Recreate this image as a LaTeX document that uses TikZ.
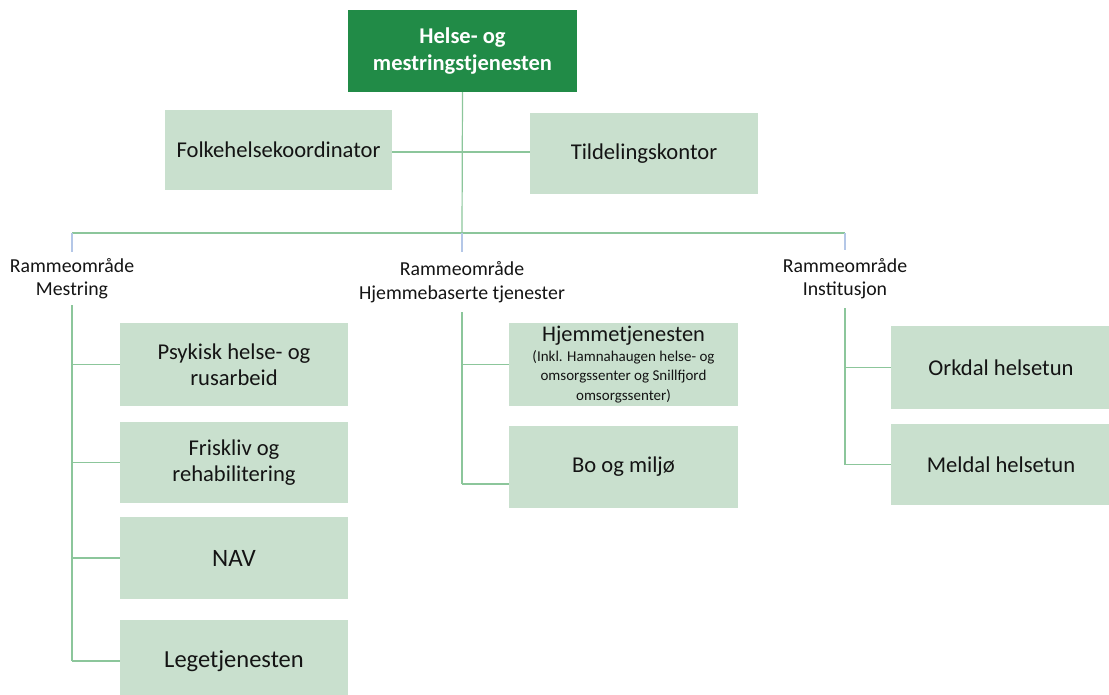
\documentclass[tikz,border=0pt]{standalone}
\usepackage{fontspec}
\setmainfont{Carlito}
\definecolor{topgreen}{RGB}{33,139,71}
\definecolor{boxgreen}{RGB}{201,224,206}
\definecolor{linegreen}{RGB}{140,198,155}
\definecolor{lineblue}{RGB}{180,199,231}
\definecolor{txt}{RGB}{20,20,20}
\tikzset{
  topbox/.style={rectangle, fill=topgreen, draw=none, text=white, align=center,
    font=\fontsize{22.5}{26.5}\selectfont\bfseries, inner sep=0pt},
  unitbox/.style={rectangle, fill=boxgreen, draw=none, text=txt, align=center,
    font=\fontsize{22.6}{26}\selectfont, inner sep=0pt},
  arealabel/.style={rectangle, draw=none, text=txt, align=center,
    font=\fontsize{19.8}{23}\selectfont, inner sep=0pt},
  conn/.style={draw=linegreen, line width=1.2pt},
  connb/.style={draw=lineblue, line width=1.2pt},
}
\begin{document}
\begin{tikzpicture}[x=1pt,y=-1pt]
\useasboundingbox (0,0) rectangle (1109,694);
% top
\node[topbox, minimum width=229pt, minimum height=82pt] (top) at (462.5,51) {Helse- og\\mestringstjenesten};
\node[unitbox, minimum width=227pt, minimum height=80pt] (folk) at (278.5,150) {Folkehelsekoordinator};
\node[unitbox, minimum width=228pt, minimum height=81pt] (tild) at (644,153.5) {Tildelingskontor};
% bus
\coordinate (busL) at (72,233);
\coordinate (busM) at (462,233);
\coordinate (busR) at (845,233);
% area labels
\node[arealabel, minimum height=53pt] (labL) at (72,278.5) {Rammeområde\\Mestring};
\node[arealabel, minimum height=60pt, font=\fontsize{19.8}{24}\selectfont] (labM) at (462,282) {Rammeområde\\Hjemmebaserte tjenester};
\node[arealabel, minimum height=58pt] (labR) at (845,279) {Rammeområde\\Institusjon};
% left units
\node[unitbox, minimum width=228pt, minimum height=83pt] (psyk) at (234,364.5) {Psykisk helse- og\\rusarbeid};
\node[unitbox, minimum width=228pt, minimum height=81pt] (frisk) at (234,462.5) {Friskliv og\\rehabilitering};
\node[unitbox, minimum width=228pt, minimum height=82pt, font=\fontsize{25}{28}\selectfont] (nav) at (234,558) {NAV};
\node[unitbox, minimum width=228pt, minimum height=82pt, font=\fontsize{24.5}{28}\selectfont] (lege) at (234,661) {Legetjenesten};
% middle units
\node[unitbox, minimum width=229pt, minimum height=83pt, font=\fontsize{15}{19.5}\selectfont] (hjem) at (623.5,364.5) {{\fontsize{22.4}{24}\selectfont Hjemmetjenesten}\\(Inkl. Hamnahaugen helse- og\\omsorgssenter og Snillfjord\\omsorgssenter)};
\node[unitbox, minimum width=229pt, minimum height=82pt] (bo) at (623.5,467) {Bo og miljø};
% right units
\node[unitbox, minimum width=220pt, minimum height=83pt] (ork) at (1001,367.5) {Orkdal helsetun};
\node[unitbox, minimum width=220pt, minimum height=81pt] (meld) at (1001,464.5) {Meldal helsetun};
% connectors
\draw[conn] (top.south) -- (busM);
\draw[conn] ([yshift=-2pt]folk.east) -- ([yshift=-2pt]folk.east -| tild.west);
\draw[conn] (busL) -- (busR);
\draw[connb] (busL) -- (labL.north);
\draw[connb] (busM) -- (labM.north);
\draw[connb] (busR) -- (labR.north);
% left branch
\draw[conn] (labL.south) -- (lege.west -| labL.south);
\draw[conn] (psyk.west -| labL.south) -- (psyk.west);
\draw[conn] (frisk.west -| labL.south) -- (frisk.west);
\draw[conn] (nav.west -| labL.south) -- (nav.west);
\draw[conn] (lege.west -| labL.south) -- (lege.west);
% middle branch
\draw[conn] (labM.south) -- ([yshift=-17pt]bo.west -| labM.south);
\draw[conn] (hjem.west -| labM.south) -- (hjem.west);
\draw[conn] ([yshift=-17pt]bo.west -| labM.south) -- ([yshift=-17pt]bo.west);
% right branch
\draw[conn] (labR.south) -- (meld.west -| labR.south);
\draw[conn] (ork.west -| labR.south) -- (ork.west);
\draw[conn] (meld.west -| labR.south) -- (meld.west);
\end{tikzpicture}
\end{document}
